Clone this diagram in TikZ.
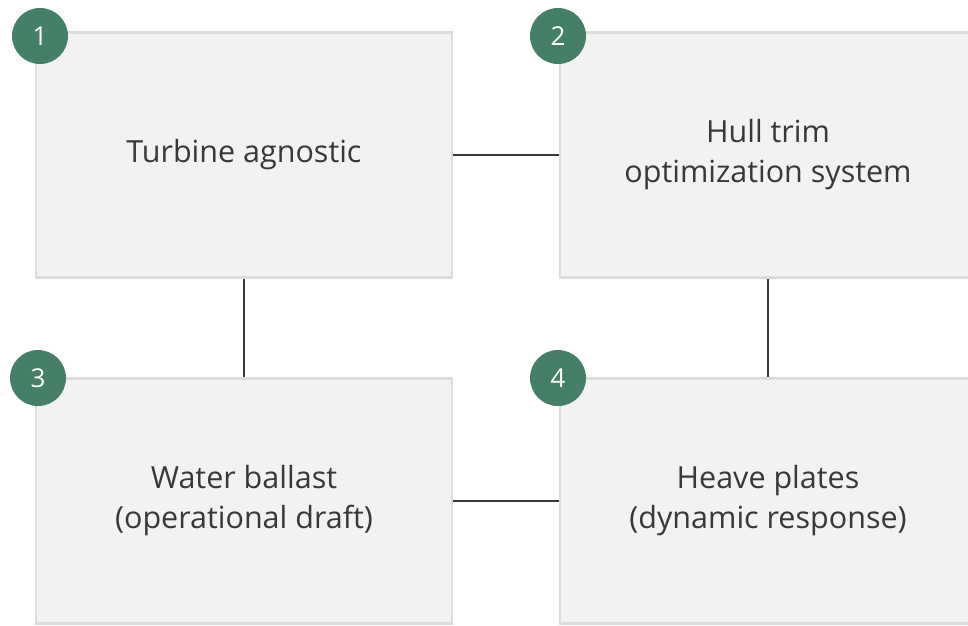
\documentclass[tikz,border=0pt]{standalone}
\usepackage{fontspec}
\setmainfont{Open Sans}
\definecolor{boxfill}{HTML}{F2F2F2}
\definecolor{boxedge}{HTML}{DCDCDC}
\definecolor{badge}{HTML}{467F67}
\definecolor{ink}{HTML}{383838}
\begin{document}
\begin{tikzpicture}[x=1pt, y=-1pt,
    boxStyle/.style={rectangle, fill=boxfill, draw=boxedge, line width=2.5pt, minimum width=416pt, minimum height=245pt, align=center, text=ink, font=\fontsize{30.5}{40}\selectfont},
    numStyle/.style={circle, fill=badge, text=white, minimum size=56pt, inner sep=0pt, font=\fontsize{26}{26}\selectfont},
    lineStyle/.style={draw=ink, line width=1.3pt}]
    \useasboundingbox (0,0) rectangle (968,625);
    \clip (0,0) rectangle (968,625);
    \node[boxStyle](box1) at (244, 155) {Turbine agnostic};
    \node[boxStyle](box2) at (768, 155) {Hull trim\\optimization system};
    \node[boxStyle](box3) at (244, 501) {Water ballast\\(operational draft)};
    \node[boxStyle](box4) at (768, 501) {Heave plates\\(dynamic response)};

    \draw[lineStyle] (box1) -- (box2);
    \draw[lineStyle] (box1) -- (box3);
    \draw[lineStyle] (box2) -- (box4);
    \draw[lineStyle] (box3) -- (box4);

    \node[numStyle](num1) at (40, 36) {1};
    \node[numStyle](num2) at (558, 36) {2};
    \node[numStyle](num3) at (38, 378) {3};
    \node[numStyle](num4) at (558, 378) {4};
\end{tikzpicture}
\end{document}
